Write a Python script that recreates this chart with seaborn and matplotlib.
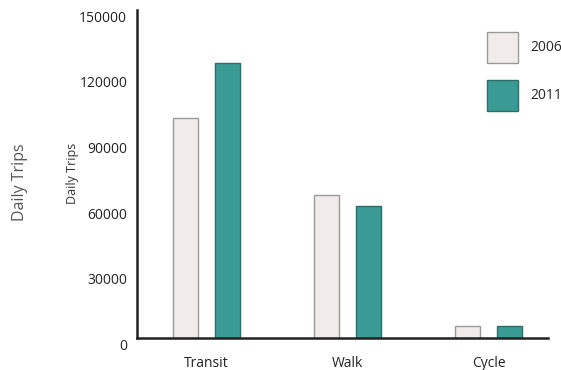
import matplotlib
matplotlib.use("Agg")
import matplotlib.pyplot as plt
import matplotlib.transforms as mtransforms
from matplotlib.patches import Patch
import seaborn as sns
import pandas as pd

# Daily trips by mode
modes = ["Transit", "Walk", "Cycle"]
years = ["2006", "2011"]
trips_2006 = [100500, 65500, 5600]
trips_2011 = [125500, 60500, 5600]
y_ticks = [0, 30000, 60000, 90000, 120000, 150000]

fill_colors = {"2006": "#f1ebec", "2011": "#3a9b94"}
edge_colors = {"2006": "#9a9a9a", "2011": "#2a6e68"}

df = pd.DataFrame({
    "Mode": modes * 2,
    "Year": [years[0]] * len(modes) + [years[1]] * len(modes),
    "Trips": trips_2006 + trips_2011,
})

sns.set_style("white")
plt.rcParams["font.family"] = ["Open Sans", "DejaVu Sans"]

fig = plt.figure(figsize=(5.61, 3.70), dpi=100)
ax = fig.add_axes([137 / 561, 32 / 370, 411 / 561, 328.5 / 370])

sns.barplot(data=df, x="Mode", y="Trips", hue="Year", order=modes,
            hue_order=years, palette=fill_colors, width=0.6, gap=0.41,
            saturation=1, ax=ax, legend=False)

# edge colour per year
n = len(modes)
for i, bar in enumerate(ax.patches[: 2 * n]):
    yr = years[i // n]
    bar.set_edgecolor(edge_colors[yr])
    bar.set_linewidth(1.0)

ax.set_xlim(-0.49, 2.42)
ax.set_ylim(0, 150000)
ax.set_yticks(y_ticks)
ax.set_yticklabels([str(v) for v in y_ticks])
ax.tick_params(axis="y", length=0, pad=7, labelsize=10, labelcolor="#222222")
ax.tick_params(axis="x", length=0, pad=13, labelsize=10, labelcolor="#222222")

# y tick labels sit slightly below their tick positions
offset = mtransforms.ScaledTranslation(0, -6.5 / 100, fig.dpi_scale_trans)
for lbl in ax.get_yticklabels():
    lbl.set_transform(lbl.get_transform() + offset)

for side in ["top", "right"]:
    ax.spines[side].set_visible(False)
for side in ["left", "bottom"]:
    ax.spines[side].set_color("#222222")
    ax.spines[side].set_linewidth(1.8)

ax.set_xlabel("")
ax.set_ylabel("Daily Trips", fontsize=9, color="#333333")
ax.yaxis.set_label_coords(-0.14, 0.50)

fig.text(20 / 561, 1 - 182 / 370, "Daily Trips", rotation=90, fontsize=11.5,
         color="#555555", ha="center", va="center")

handles = [Patch(facecolor=fill_colors[y], edgecolor=edge_colors[y], linewidth=1.0)
           for y in years]
fig.legend(handles, years, loc="upper left", bbox_to_anchor=(481 / 561, 1 - 26 / 370),
           frameon=False, fontsize=10, handlelength=2.25, handleheight=3.1,
           labelspacing=1.2, handletextpad=0.9, borderaxespad=0)

fig.savefig("out.png", dpi=100)
